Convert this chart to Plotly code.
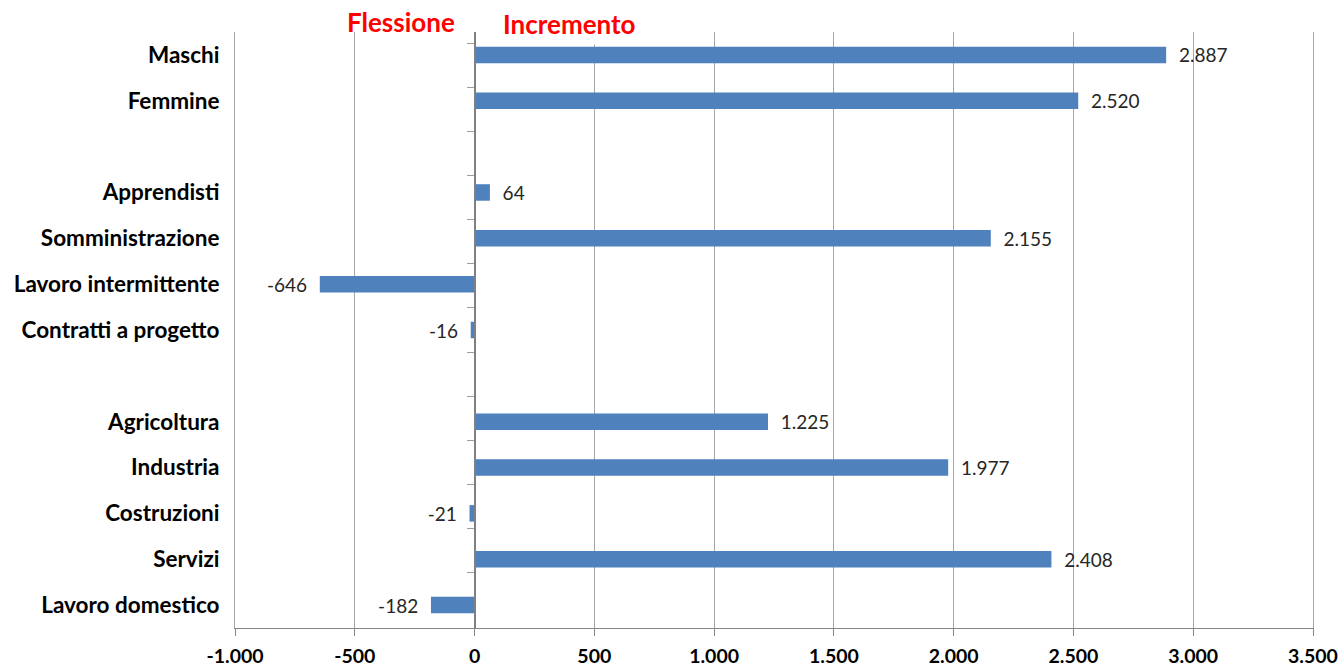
import plotly.graph_objects as go

# Rows from top to bottom; blank strings leave empty separator rows
categories = ["Maschi", "Femmine", " ",
              "Apprendisti", "Somministrazione", "Lavoro intermittente", "Contratti a progetto", "  ",
              "Agricoltura", "Industria", "Costruzioni", "Servizi", "Lavoro domestico"]
values = [2887, 2520, None,
          64, 2155, -646, -16, None,
          1225, 1977, -21, 2408, -182]
x_ticks = [-1000, -500, 0, 500, 1000, 1500, 2000, 2500, 3000, 3500]

BAR = "#4F81BD"
GRID = "#A6A6A6"
AXIS = "#868686"
FONT = "Lato"


def it_number(v):
    """Integer with a dot as thousands separator and a plain hyphen for negatives."""
    return f"{v:,}".replace(",", ".")


pad = "\u00a0\u00a0"
labels = ["" if v is None else (pad + it_number(v) if v >= 0 else it_number(v) + pad) for v in values]

fig = go.Figure()
fig.add_trace(go.Bar(
    x=values, y=categories, orientation="h",
    marker=dict(color=BAR, line=dict(width=0)),
    text=labels, textposition="outside", cliponaxis=False, constraintext="none",
    textfont=dict(family=FONT, size=19, color="#262626"),
    hoverinfo="skip", showlegend=False,
))
# invisible carrier for the axis drawn along x = 0
fig.add_trace(go.Scatter(
    x=[0] * len(categories), y=categories, yaxis="y2", mode="markers",
    marker=dict(opacity=0), hoverinfo="skip", showlegend=False,
))

fig.update_layout(
    width=1342, height=668,
    margin=dict(l=235, r=29, t=32, b=40, autoexpand=False),
    paper_bgcolor="white", plot_bgcolor="white",
    bargap=0.64,
    xaxis=dict(
        range=[x_ticks[0], x_ticks[-1]], tickmode="array", tickvals=x_ticks,
        ticktext=[it_number(v) for v in x_ticks], automargin=False,
        showgrid=True, gridcolor=GRID, gridwidth=1, zeroline=False,
        showline=True, linecolor=AXIS, linewidth=1,
        ticks="outside", ticklen=7, tickcolor=AXIS, ticklabelstandoff=4,
        tickfont=dict(family=FONT, size=19.5, color="#000000", weight="bold"),
    ),
    yaxis=dict(
        type="category", categoryorder="array", categoryarray=categories,
        autorange="reversed", showgrid=False, zeroline=False,
        showline=True, mirror=True, linecolor=GRID, linewidth=1, automargin=False,
        ticks="", ticklabelstandoff=10,
        tickfont=dict(family=FONT, size=22.5, color="#000000", weight="bold"),
    ),
    yaxis2=dict(
        type="category", categoryorder="array", categoryarray=categories,
        autorange="reversed", overlaying="y", anchor="free", automargin=False,
        position=(0 - x_ticks[0]) / (x_ticks[-1] - x_ticks[0]), side="left",
        showgrid=False, zeroline=False, showline=True, linecolor="#808080", linewidth=1.5,
        ticks="outside", tickson="boundaries", ticklen=7, tickcolor="#A0A0A0",
        showticklabels=False,
    ),
    annotations=[
        dict(text="Flessione", xref="paper", yref="paper", x=0.154, y=1.017,
             xanchor="center", yanchor="middle", showarrow=False,
             font=dict(family=FONT, size=26, color="#FF0000", weight="bold")),
        dict(text="Incremento", xref="paper", yref="paper", x=0.310, y=1.013,
             xanchor="center", yanchor="middle", showarrow=False,
             bgcolor="white", borderpad=4,
             font=dict(family=FONT, size=26, color="#FF0000", weight="bold")),
    ],
)

fig.write_html("out.html")
